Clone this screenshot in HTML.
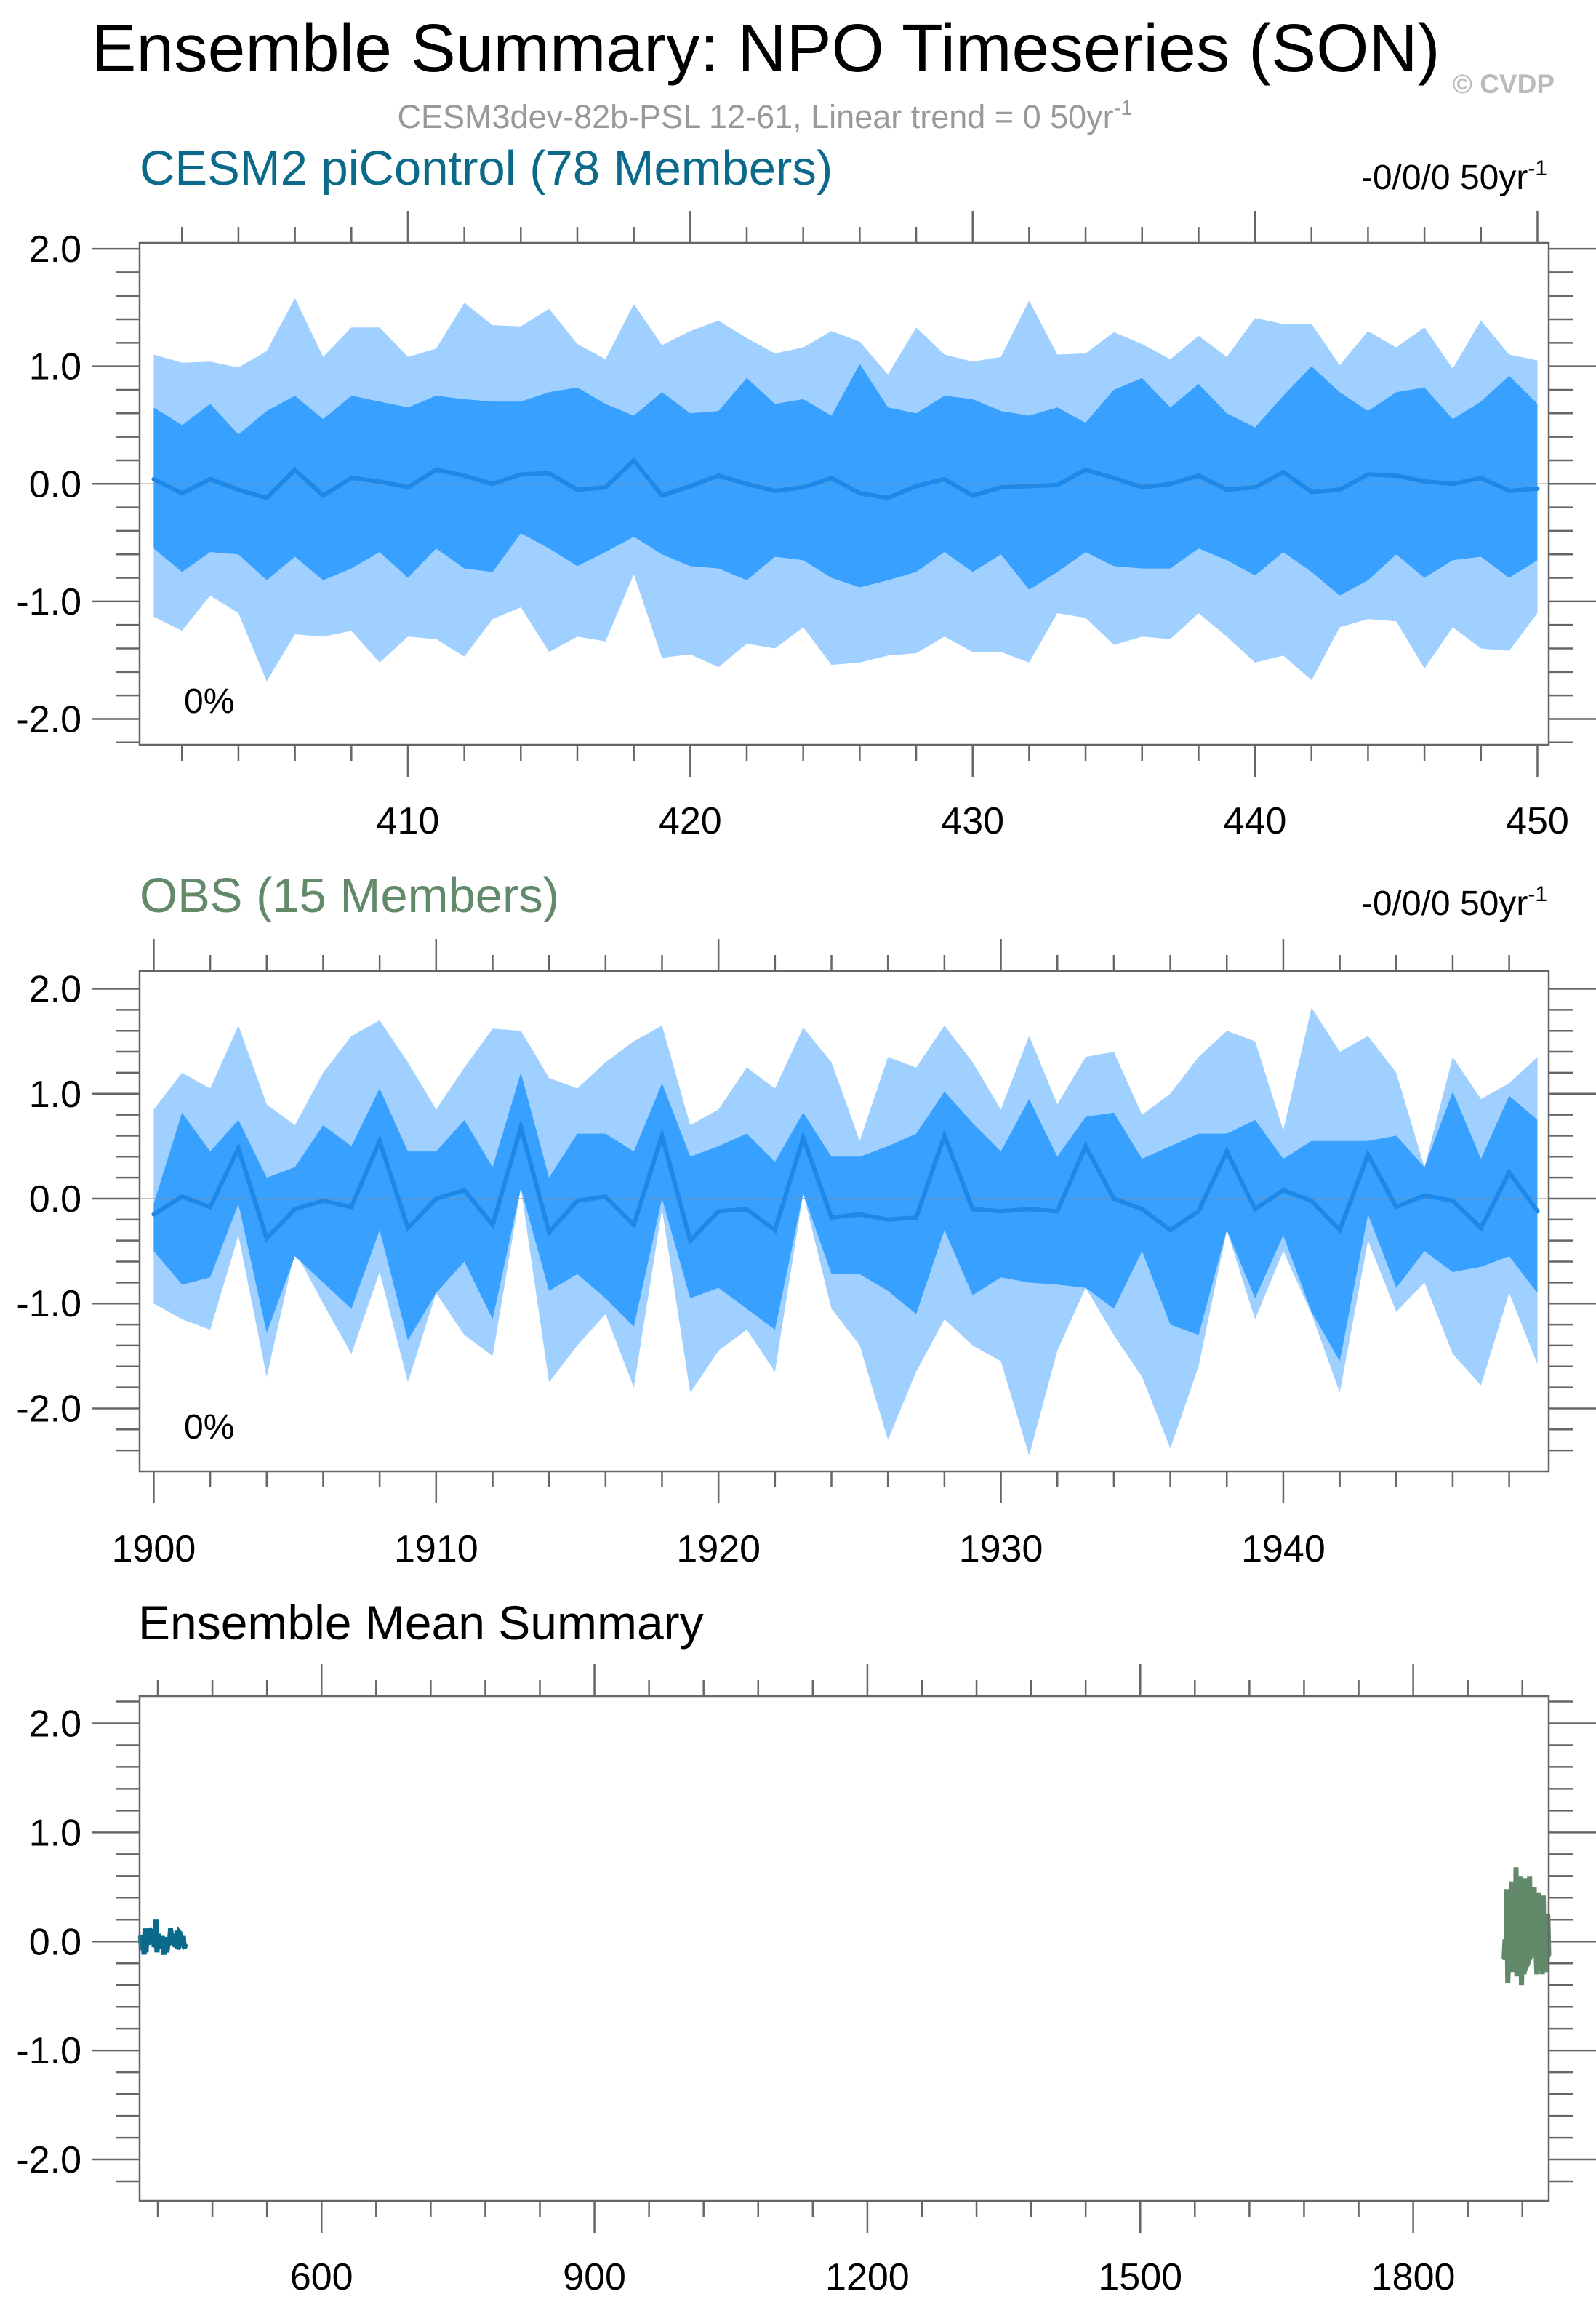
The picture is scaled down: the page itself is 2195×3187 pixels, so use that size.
<!DOCTYPE html>
<html><head><meta charset="utf-8"><style>
html,body{margin:0;padding:0;background:#fff}
svg{display:block;font-family:"Liberation Sans",sans-serif}
</style></head><body>
<svg id="chart" width="2195" height="3187" viewBox="0 0 2195 3187">
<text x="1053" y="98" font-size="93" text-anchor="middle" fill="#000">Ensemble Summary: NPO Timeseries (SON)</text>
<text x="1052" y="176" font-size="45" text-anchor="middle" fill="#999">CESM3dev-82b-PSL 12-61, Linear trend = 0 50yr<tspan font-size="29" dy="-18">-1</tspan></text>
<text x="2138" y="128" font-size="37" font-weight="bold" text-anchor="end" fill="#bbb">© CVDP</text>
<text x="192" y="254" font-size="67" fill="#0b6a8a">CESM2 piControl (78 Members)</text>
<text x="2128" y="260" font-size="48" text-anchor="end" fill="#000">-0/0/0 50yr<tspan font-size="30" dy="-19">-1</tspan></text>
<text x="192" y="1254" font-size="67" fill="#62896a">OBS (15 Members)</text>
<text x="2128" y="1258" font-size="48" text-anchor="end" fill="#000">-0/0/0 50yr<tspan font-size="30" dy="-19">-1</tspan></text>
<text x="190" y="2254" font-size="66" fill="#000">Ensemble Mean Summary</text>
<g id="plots"></g>
</svg>
<script>
const cesmYears = Array.from({length:50},(_,i)=>401+i);
const cesmLightTop=[1.1,1.03,1.04,0.99,1.13,1.58,1.08,1.33,1.33,1.08,1.15,1.54,1.35,1.34,1.49,1.19,1.06,1.53,1.18,1.3,1.39,1.24,1.11,1.16,1.3,1.21,0.93,1.33,1.1,1.04,1.08,1.56,1.1,1.11,1.29,1.19,1.06,1.26,1.08,1.41,1.36,1.36,1.01,1.3,1.16,1.33,0.98,1.39,1.1,1.05];
const cesmDarkTop=[0.65,0.5,0.68,0.42,0.62,0.75,0.55,0.75,0.7,0.65,0.75,0.72,0.7,0.7,0.78,0.82,0.68,0.58,0.78,0.6,0.62,0.9,0.68,0.72,0.58,1.02,0.65,0.6,0.75,0.72,0.62,0.58,0.65,0.52,0.8,0.9,0.65,0.85,0.6,0.48,0.75,1.0,0.78,0.62,0.78,0.82,0.55,0.7,0.92,0.68];
const cesmMean=[0.04,-0.08,0.04,-0.05,-0.12,0.12,-0.1,0.05,0.02,-0.03,0.12,0.07,0,0.08,0.09,-0.05,-0.03,0.2,-0.1,-0.02,0.07,0,-0.06,-0.03,0.05,-0.08,-0.12,-0.02,0.04,-0.1,-0.03,-0.02,-0.01,0.12,0.05,-0.03,0,0.07,-0.05,-0.03,0.1,-0.07,-0.05,0.08,0.07,0.02,0,0.05,-0.06,-0.04];
const cesmDarkBot=[-0.55,-0.75,-0.58,-0.6,-0.82,-0.62,-0.82,-0.72,-0.58,-0.8,-0.55,-0.72,-0.75,-0.42,-0.55,-0.7,-0.58,-0.45,-0.6,-0.7,-0.72,-0.82,-0.62,-0.65,-0.8,-0.88,-0.82,-0.75,-0.58,-0.75,-0.6,-0.9,-0.75,-0.58,-0.7,-0.72,-0.72,-0.55,-0.65,-0.78,-0.58,-0.75,-0.95,-0.82,-0.6,-0.8,-0.65,-0.62,-0.8,-0.65];
const cesmLightBot=[-1.13,-1.25,-0.95,-1.1,-1.68,-1.28,-1.3,-1.25,-1.52,-1.3,-1.32,-1.47,-1.15,-1.05,-1.43,-1.3,-1.34,-0.77,-1.48,-1.45,-1.56,-1.36,-1.4,-1.22,-1.54,-1.52,-1.46,-1.44,-1.3,-1.43,-1.43,-1.52,-1.1,-1.14,-1.37,-1.3,-1.32,-1.1,-1.3,-1.52,-1.46,-1.67,-1.22,-1.15,-1.17,-1.57,-1.22,-1.4,-1.42,-1.1];
const obsYears = Array.from({length:50},(_,i)=>1900+i);
const obsLightTop=[0.85,1.2,1.05,1.65,0.9,0.7,1.2,1.55,1.7,1.3,0.85,1.25,1.62,1.6,1.15,1.05,1.3,1.5,1.65,0.7,0.85,1.25,1.05,1.63,1.3,0.55,1.35,1.25,1.65,1.3,0.85,1.55,0.9,1.35,1.4,0.8,1.0,1.35,1.6,1.5,0.65,1.82,1.4,1.55,1.2,0.3,1.35,0.95,1.1,1.35];
const obsDarkTop=[-0.05,0.82,0.45,0.75,0.2,0.3,0.7,0.5,1.05,0.45,0.45,0.75,0.3,1.2,0.2,0.62,0.62,0.45,1.1,0.4,0.5,0.62,0.35,0.82,0.4,0.4,0.5,0.62,1.02,0.72,0.45,0.95,0.4,0.78,0.82,0.38,0.5,0.62,0.62,0.75,0.38,0.55,0.55,0.55,0.6,0.3,1.02,0.38,0.98,0.75];
const obsMean=[-0.15,0.02,-0.08,0.48,-0.38,-0.1,-0.02,-0.08,0.55,-0.28,0.0,0.08,-0.25,0.68,-0.32,-0.02,0.02,-0.25,0.6,-0.4,-0.12,-0.1,-0.3,0.58,-0.18,-0.15,-0.2,-0.18,0.6,-0.1,-0.12,-0.1,-0.12,0.5,0.0,-0.1,-0.3,-0.12,0.45,-0.1,0.08,-0.02,-0.3,0.42,-0.08,0.03,-0.02,-0.28,0.25,-0.12];
const obsDarkBot=[-0.5,-0.82,-0.75,-0.05,-1.28,-0.55,-0.8,-1.05,-0.3,-1.35,-0.9,-0.6,-1.15,0.1,-0.88,-0.72,-0.95,-1.22,0.0,-0.95,-0.85,-1.05,-1.25,0.05,-0.72,-0.72,-0.88,-1.1,-0.3,-0.92,-0.75,-0.8,-0.82,-0.85,-1.05,-0.5,-1.2,-1.3,-0.3,-0.95,-0.35,-1.08,-1.55,-0.15,-0.85,-0.5,-0.7,-0.65,-0.55,-0.9];
const obsLightBot=[-1.0,-1.15,-1.25,-0.35,-1.7,-0.5,-1.0,-1.48,-0.7,-1.75,-0.9,-1.3,-1.5,0.1,-1.75,-1.4,-1.1,-1.8,-0.1,-1.85,-1.45,-1.25,-1.65,0.05,-1.05,-1.4,-2.3,-1.65,-1.15,-1.4,-1.55,-2.45,-1.45,-0.85,-1.3,-1.7,-2.38,-1.6,-0.3,-1.15,-0.5,-1.1,-1.85,-0.4,-1.08,-0.8,-1.48,-1.78,-0.9,-1.58];
const yTickLabels=["2.0","1.0","0.0","-1.0","-2.0"];
const yTickValues=[2,1,0,-1,-2];
const p1XTicks=[410,420,430,440,450];
const p2XTicks=[1900,1910,1920,1930,1940];
const p3XTicks=[600,900,1200,1500,1800];

const NS="http://www.w3.org/2000/svg";
const root=document.getElementById('plots');
function mk(tag,attrs,parent){const e=document.createElementNS(NS,tag);for(const k in attrs)e.setAttribute(k,attrs[k]);(parent||root).appendChild(e);return e;}

function panel(cfg){
  const g=mk('g',{});
  
  
  const L=192,R=2130,T=cfg.top,B=cfg.bottom;
  const xs=v=>L+(v-cfg.x0)/(cfg.x1-cfg.x0)*(R-L);
  const ys=v=>T+(cfg.y1-v)/(cfg.y1-cfg.y0)*(B-T);
  const tk=mk('g',{stroke:'#666','stroke-width':2.5},g);
  
  
  for(let v=-2.4;v<=2.21;v+=0.2){const vv=Math.round(v*10)/10;if(vv<cfg.y0-1e-6||vv>cfg.y1+1e-6)continue;
    const maj=Math.abs(vv-Math.round(vv))<1e-6;const len=maj?66:33;const y=ys(vv);
    mk('line',{x1:L-len,x2:L,y1:y,y2:y},tk);mk('line',{x1:R,x2:R+len,y1:y,y2:y},tk);}
  for(let v=cfg.mStart;v<=cfg.x1+1e-6;v+=cfg.mStep){if(v<cfg.x0)continue;
    const maj=cfg.xt.some(t=>Math.abs(t-v)<1e-6);const len=maj?44:22;const x=xs(v);
    mk('line',{x1:x,x2:x,y1:T-len,y2:T},tk);mk('line',{x1:x,x2:x,y1:B,y2:B+len},tk);}
  if(cfg.bands){
    const band=(top,bot,col,nm)=>{let d='';cfg.years.forEach((yr,i)=>{d+=(i?'L':'M')+xs(yr).toFixed(1)+','+ys(top[i]).toFixed(1);});
      for(let i=cfg.years.length-1;i>=0;i--)d+='L'+xs(cfg.years[i]).toFixed(1)+','+ys(bot[i]).toFixed(1);
      const p=mk('path',{d:d+'Z',fill:col},g);};
    band(cfg.bands[0],cfg.bands[4],'#9fd0ff',cfg.name+'-outer-band');
    band(cfg.bands[1],cfg.bands[3],'#38a0ff',cfg.name+'-inner-band');
    const z=mk('line',{x1:L,x2:R,y1:ys(0),y2:ys(0),stroke:'#888','stroke-width':1.5,'stroke-opacity':0.7},g);
    
    
  }
  cfg.lines.forEach(ln=>{
    const pts=ln.years.map((yr,i)=>xs(yr).toFixed(1)+','+ys(ln.vals[i]).toFixed(1)).join(' ');
    const p=mk('polyline',{points:pts,fill:'none',stroke:ln.color,'stroke-width':ln.w,'stroke-linejoin':'miter','stroke-linecap':'round'},g);
    
    
  });
  const fr=mk('rect',{x:L,y:T,width:R-L,height:B-T,fill:'none',stroke:'#666','stroke-width':2.5},g);
  
  
  yTickValues.forEach((v,i)=>{const t=mk('text',{x:112,y:ys(v)+18,'font-size':52,'text-anchor':'end',fill:'#000'},g);t.textContent=yTickLabels[i];
    
    });
  cfg.xt.forEach(v=>{const t=mk('text',{x:xs(v),y:B+cfg.lblOff,'font-size':52,'text-anchor':'middle',fill:'#000'},g);t.textContent=String(v);
    
    });
  if(cfg.pct){const t=mk('text',{x:253,y:cfg.pct,'font-size':48,fill:'#000'},g);t.textContent='0%';
    
    }
}
panel({name:'cesm2-panel',top:334,bottom:1024,x0:400.5,x1:450.4,y0:-2.22,y1:2.05,years:cesmYears,
  bands:[cesmLightTop,cesmDarkTop,cesmMean,cesmDarkBot,cesmLightBot],xt:p1XTicks,mStart:402,mStep:2,lblOff:122,pct:980,
  lines:[{years:cesmYears,vals:cesmMean,color:'#1e88e8',w:6,name:'cesm2-ensemble-mean-line'}]});
panel({name:'obs-panel',top:1335,bottom:2023,x0:1899.5,x1:1949.4,y0:-2.6,y1:2.17,years:obsYears,
  bands:[obsLightTop,obsDarkTop,obsMean,obsDarkBot,obsLightBot],xt:p2XTicks,mStart:1900,mStep:2,lblOff:124,pct:1978,
  lines:[{years:obsYears,vals:obsMean,color:'#1e88e8',w:6,name:'obs-ensemble-mean-line'}]});
panel({name:'ensemble-mean-panel',top:2332,bottom:3026,x0:400,x1:1949,y0:-2.38,y1:2.25,years:null,bands:null,
  xt:p3XTicks,mStart:420,mStep:60,lblOff:122,pct:null,
  lines:[{years:cesmYears,vals:cesmMean,color:'#0b6a8a',w:7,name:'cesm2-mean-summary-line'},
         {years:obsYears,vals:obsMean,color:'#62896a',w:7,name:'obs-mean-summary-line'}]});
</script>
</body></html>
